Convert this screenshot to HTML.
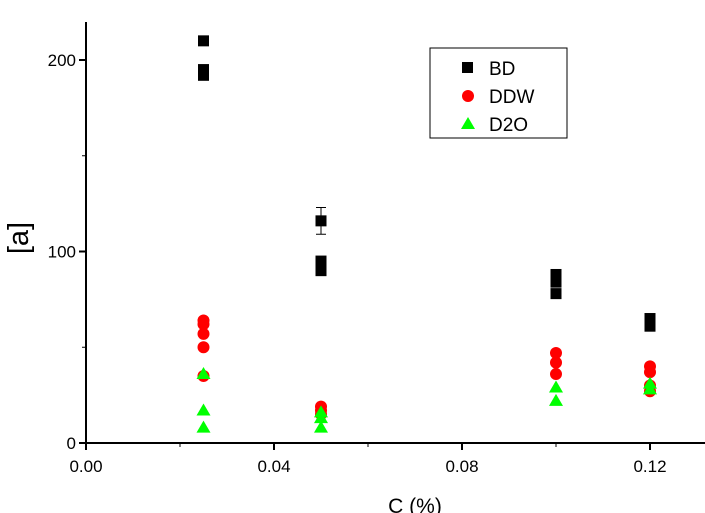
<!DOCTYPE html>
<html><head><meta charset="utf-8"><style>body{margin:0;background:#fff}svg{display:block;font-family:"Liberation Sans",sans-serif}</style></head>
<body>
<svg id="chart" width="705" height="513">
<g id="axes"></g><g id="marks"></g>
<g>
<rect x="430" y="48" width="137" height="90" fill="#fff" stroke="#000" stroke-width="1"/>
<rect x="462" y="62" width="11" height="11" fill="#000"/>
<text x="489" y="75" font-size="19">BD</text>
<circle cx="468" cy="96" r="6" fill="#f00"/>
<text x="489" y="103" font-size="19">DDW</text>
<polygon points="468,117 475,129 461,129" fill="#0f0"/>
<text x="489" y="131" font-size="19">D2O</text>
</g>
<text x="28" y="238" font-size="29" transform="rotate(-90 28 238)" text-anchor="middle">[a]</text>
<text x="415" y="513" font-size="21" text-anchor="middle">C (%)</text>
</svg>
<script>
const xTicks=[0,0.04,0.08,0.12];
const xTickLabels=["0.00","0.04","0.08","0.12"];
const yTicks=[0,100,200];
const bdX=[0.025,0.025,0.025,0.05,0.05,0.05,0.05,0.1,0.1,0.1,0.12,0.12];
const bdY=[210,195,192,116,95,92,90,88,84,78,65,61];
const bdErr=[0,0,0,7,0,0,0,0,0,0,0,0];
const ddwX=[0.025,0.025,0.025,0.025,0.025,0.05,0.05,0.05,0.1,0.1,0.1,0.12,0.12,0.12,0.12];
const ddwY=[64,62,57,50,35,19,17,15,47,42,36,40,37,30,27];
const d2oX=[0.025,0.025,0.025,0.05,0.05,0.05,0.1,0.1,0.12,0.12];
const d2oY=[36,17,8,16,13,8,29,22,31,28];
const X=v=>86+v*4700, Y=v=>443-v*1.915;
const NS="http://www.w3.org/2000/svg";
function mk(t,a,p){const e=document.createElementNS(NS,t);for(const k in a)e.setAttribute(k,a[k]);p.appendChild(e);return e;}
const ax=document.getElementById('axes'), mg=document.getElementById('marks');
let e=mk('line',{x1:86,y1:22,x2:86,y2:444,stroke:'#000','stroke-width':2},ax);


e=mk('line',{x1:85,y1:443,x2:705,y2:443,stroke:'#000','stroke-width':2},ax);


xTicks.forEach((v,i)=>{mk('line',{x1:X(v),y1:443,x2:X(v),y2:450,stroke:'#000','stroke-width':2},ax);
 const t=mk('text',{x:X(v),y:472,'font-size':17,'text-anchor':'middle'},ax);t.textContent=xTickLabels[i];
 
 
 if(i<xTicks.length-1) mk('line',{x1:X(v+0.02),y1:443,x2:X(v+0.02),y2:447,stroke:'#000','stroke-width':1},ax);});
yTicks.forEach(v=>{mk('line',{x1:79,y1:Y(v),x2:86,y2:Y(v),stroke:'#000','stroke-width':2},ax);
 const t=mk('text',{x:76,y:Y(v)+6,'font-size':17,'text-anchor':'end'},ax);t.textContent=v;
 
 
 mk('line',{x1:82,y1:Y(v+50),x2:86,y2:Y(v+50),stroke:'#000','stroke-width':1},ax);});
bdX.forEach((x,i)=>{
 if(bdErr[i]>0){const cx=X(x),y1=Y(bdY[i]+bdErr[i]),y2=Y(bdY[i]-bdErr[i]);
  const g=mk('path',{d:`M${cx},${y1}V${y2}M${cx-5},${y1}H${cx+5}M${cx-5},${y2}H${cx+5}`,stroke:'#000','stroke-width':1,fill:'none'},mg);
  
  }
 const r=mk('rect',{x:X(x)-5.5,y:Y(bdY[i])-5.5,width:11,height:11,fill:'#000'},mg);
 
 });
ddwX.forEach((x,i)=>{const c=mk('circle',{cx:X(x),cy:Y(ddwY[i]),r:6,fill:'#f00'},mg);
 
 });
d2oX.forEach((x,i)=>{const cx=X(x),cy=Y(d2oY[i]);const p=mk('polygon',{points:`${cx},${cy-7} ${cx+7},${cy+5} ${cx-7},${cy+5}`,fill:'#0f0'},mg);
 
 });
</script>
</body></html>
